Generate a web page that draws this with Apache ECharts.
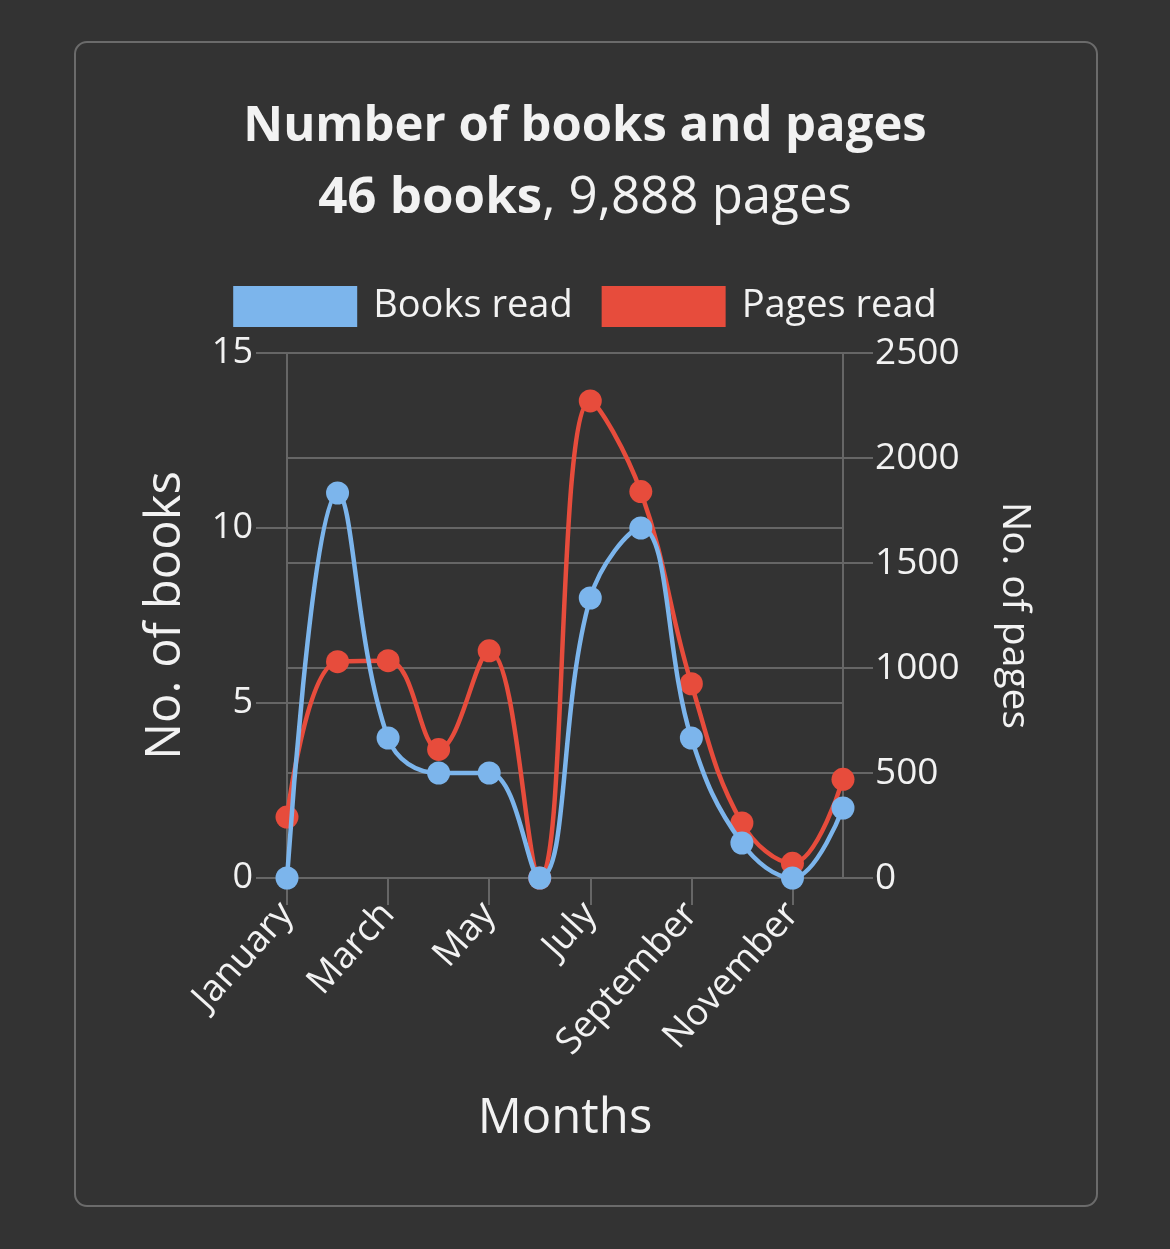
<!DOCTYPE html>
<html><head><meta charset="utf-8">
<style>html,body{margin:0;padding:0;background:#333333;}#c{width:1170px;height:1249px;}</style>
<script src="https://cdn.jsdelivr.net/npm/echarts@6/dist/echarts.min.js"></script>
</head><body><div id="c"></div>
<script>
const months = ['January','February','March','April','May','June','July','August','September','October','November','December'];
const booksRead = [0, 11, 4, 3, 3, 0, 8, 10, 4, 1, 0, 2];
const pagesRead = [290, 1030, 1035, 612, 1082, 0, 2272, 1840, 925, 262, 70, 470];
const booksTicks = {min: 0, max: 15, interval: 5};
const pagesTicks = {min: 0, max: 2500, interval: 500};
const titleText = 'Number of books and pages';
const totalBooks = '46 books';
const totalPages = '9,888 pages';

const FONT = 'Open Sans';
const GRID = '#666666';
const TXT = '#f2f2f2';
const BLUE = '#7cb5ec';
const RED = '#e74c3c';

const chart = echarts.init(document.getElementById('c'), null, {renderer: 'canvas'});
chart.setOption({
  backgroundColor: '#333333',
  textStyle: {fontFamily: FONT},
  graphic: [{
    type: 'rect', left: 74, top: 41, z: -1,
    shape: {width: 1022, height: 1164, r: 12},
    style: {fill: 'transparent', stroke: '#6b6b6b', lineWidth: 2}
  }],
  title: [{
    text: titleText, left: 'center', top: 98,
    textStyle: {color: TXT, fontSize: 49, fontWeight: 'bold', fontFamily: FONT}
  }, {
    text: '{b|' + totalBooks + '}{n|, ' + totalPages + '}', left: 'center', top: 168,
    textStyle: {color: TXT, fontSize: 51, fontWeight: 'normal', fontFamily: FONT,
      rich: {
        b: {fontSize: 51, fontWeight: 'bold', color: TXT, fontFamily: FONT},
        n: {fontSize: 51, fontWeight: 'normal', color: TXT, fontFamily: FONT}
      }}
  }],
  legend: {
    data: ['Books read', 'Pages read'], top: 281, left: 'center',
    icon: 'rect', itemWidth: 124, itemHeight: 41, itemGap: 29,
    textStyle: {color: TXT, fontSize: 38, fontFamily: FONT, padding: [0, 0, 0, 11]}
  },
  grid: {left: 287, right: 327, top: 353, bottom: 371},
  xAxis: {
    type: 'category', data: months, boundaryGap: false,
    name: 'Months', nameLocation: 'middle', nameGap: 217,
    nameTextStyle: {color: TXT, fontSize: 49, fontFamily: FONT},
    axisLine: {lineStyle: {color: GRID, width: 2}},
    axisTick: {show: true, interval: 1, length: 27, lineStyle: {color: GRID, width: 2}},
    axisLabel: {interval: 1, rotate: 48, color: TXT, fontSize: 37, margin: 30, fontFamily: FONT},
    splitLine: {show: false}
  },
  yAxis: [{
    type: 'value', position: 'left', min: booksTicks.min, max: booksTicks.max, interval: booksTicks.interval,
    name: 'No. of books', nameLocation: 'middle', nameGap: 96,
    nameTextStyle: {color: TXT, fontSize: 49, fontFamily: FONT},
    axisLine: {show: true, lineStyle: {color: GRID, width: 2}},
    axisTick: {show: true, length: 31, lineStyle: {color: GRID, width: 2}},
    axisLabel: {color: TXT, fontSize: 36, margin: 34, fontFamily: FONT},
    splitLine: {show: true, lineStyle: {color: GRID, width: 2}}
  }, {
    type: 'value', position: 'right', min: pagesTicks.min, max: pagesTicks.max, interval: pagesTicks.interval,
    name: 'No. of pages', nameLocation: 'middle', nameGap: 152, nameRotate: -90,
    nameTextStyle: {color: TXT, fontSize: 39, fontFamily: FONT},
    axisLine: {show: true, lineStyle: {color: GRID, width: 2}},
    axisTick: {show: true, length: 30, lineStyle: {color: GRID, width: 2}},
    axisLabel: {color: TXT, fontSize: 37, margin: 32, fontFamily: FONT, formatter: function (v) { return String(v); }},
    splitLine: {show: true, lineStyle: {color: GRID, width: 2}}
  }],
  series: [{
    name: 'Books read', type: 'line', yAxisIndex: 0, data: booksRead, z: 4,
    smooth: 0.4, symbol: 'circle', symbolSize: 23,
    lineStyle: {color: BLUE, width: 4.5}, itemStyle: {color: BLUE}
  }, {
    name: 'Pages read', type: 'line', yAxisIndex: 1, data: pagesRead, z: 3,
    smooth: 0.4, symbol: 'circle', symbolSize: 23,
    lineStyle: {color: RED, width: 4.5}, itemStyle: {color: RED}
  }],
  animation: false
});
</script></body></html>
